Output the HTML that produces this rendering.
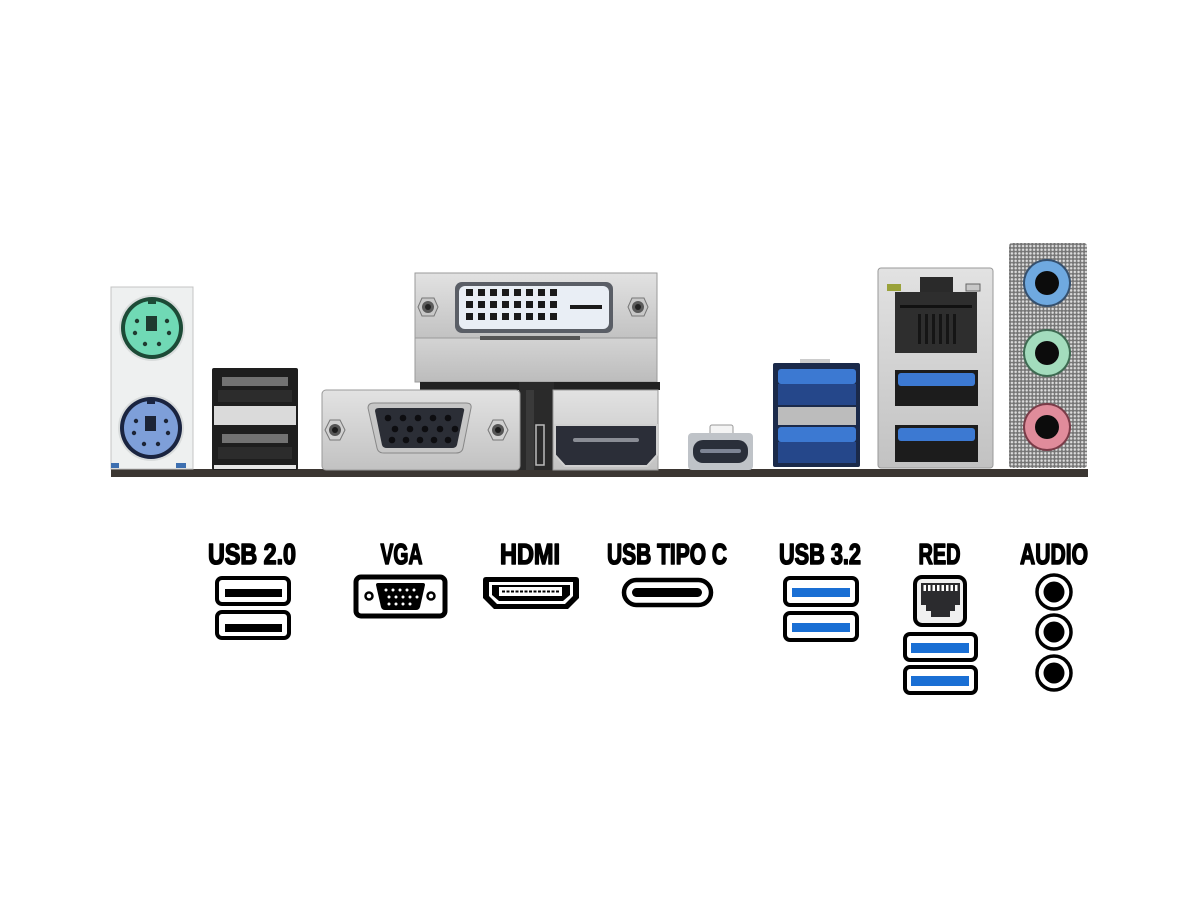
<!DOCTYPE html>
<html><head><meta charset="utf-8"><style>
html,body{margin:0;padding:0;background:#fff;}
svg{display:block;}
.lbl{font-family:"Liberation Sans",sans-serif;font-weight:bold;font-size:29px;fill:#000;stroke:#000;stroke-width:1.6px;stroke-linejoin:round;}
</style></head><body>
<svg width="1200" height="900" viewBox="0 0 1200 900" xmlns="http://www.w3.org/2000/svg">
<defs>
 <linearGradient id="silver" x1="0" y1="0" x2="0" y2="1">
  <stop offset="0" stop-color="#e2e2e2"/><stop offset="1" stop-color="#c2c2c2"/>
 </linearGradient>
 <linearGradient id="silver2" x1="0" y1="0" x2="0" y2="1">
  <stop offset="0" stop-color="#d4d4d4"/><stop offset="1" stop-color="#bcbcbc"/>
 </linearGradient>
 <pattern id="perf" width="3.7" height="3.7" patternUnits="userSpaceOnUse">
  <rect width="3.7" height="3.7" fill="#747474"/><circle cx="1.85" cy="1.85" r="1.25" fill="#dcdcdc"/>
 </pattern>
</defs>

<!-- bottom bar -->
<rect x="111" y="469" width="977" height="8" fill="#3b3632"/>

<!-- PS/2 panel -->
<rect x="111" y="287" width="82" height="182" fill="#eef0f0" stroke="#c4c4c4" stroke-width="1"/>
<rect x="111" y="463" width="8" height="5" fill="#3d6fb0"/>
<rect x="176" y="463" width="10" height="5" fill="#3d6fb0"/>
<circle cx="152" cy="328" r="33" fill="#d9dcdc"/>
<circle cx="152" cy="328" r="31" fill="#1c4a36"/>
<circle cx="152" cy="328" r="27" fill="#70d9b5"/>
<rect x="148" y="299" width="8" height="5" fill="#1c4a36"/>
<rect x="146" y="316" width="11" height="15" fill="#1f3a30"/>
<circle cx="137" cy="321" r="2.2" fill="#1f3a30"/><circle cx="167" cy="321" r="2.2" fill="#1f3a30"/>
<circle cx="135" cy="333" r="2.2" fill="#1f3a30"/><circle cx="169" cy="333" r="2.2" fill="#1f3a30"/>
<circle cx="145" cy="344" r="2.2" fill="#1f3a30"/><circle cx="159" cy="344" r="2.2" fill="#1f3a30"/>

<circle cx="151" cy="428" r="33" fill="#d9dcdc"/>
<circle cx="151" cy="428" r="31" fill="#1a2440"/>
<circle cx="151" cy="428" r="27" fill="#7e9fd9"/>
<rect x="147" y="399" width="8" height="5" fill="#1a2440"/>
<rect x="145" y="416" width="11" height="15" fill="#1c2436"/>
<circle cx="136" cy="421" r="2.2" fill="#1c2436"/><circle cx="166" cy="421" r="2.2" fill="#1c2436"/>
<circle cx="134" cy="433" r="2.2" fill="#1c2436"/><circle cx="168" cy="433" r="2.2" fill="#1c2436"/>
<circle cx="144" cy="444" r="2.2" fill="#1c2436"/><circle cx="158" cy="444" r="2.2" fill="#1c2436"/>

<!-- USB 2.0 stack -->
<rect x="212" y="368" width="86" height="102" rx="2" fill="#1e1e1e"/>
<rect x="222" y="377" width="66" height="9" fill="#727272"/>
<rect x="218" y="390" width="74" height="12" fill="#2c2c2c"/>
<rect x="214" y="406" width="82" height="19" fill="#dadada"/>
<rect x="222" y="434" width="66" height="9" fill="#727272"/>
<rect x="218" y="447" width="74" height="12" fill="#2c2c2c"/>
<rect x="214" y="465" width="82" height="4" fill="#e6e6e6"/>

<!-- DVI bracket -->
<rect x="415" y="273" width="242" height="65" fill="url(#silver)" stroke="#9a9a9a"/>
<rect x="415" y="338" width="242" height="44" fill="url(#silver2)" stroke="#9a9a9a"/>
<rect x="480" y="336" width="100" height="4" fill="#555"/>
<rect x="455" y="282" width="158" height="51" rx="7" fill="#5a5e66"/>
<rect x="459" y="286" width="150" height="43" rx="6" fill="#e9eef5"/>
<g fill="#1a1a1a">
 <rect x="466" y="289" width="7" height="7"/><rect x="478" y="289" width="7" height="7"/><rect x="490" y="289" width="7" height="7"/><rect x="502" y="289" width="7" height="7"/><rect x="514" y="289" width="7" height="7"/><rect x="526" y="289" width="7" height="7"/><rect x="538" y="289" width="7" height="7"/><rect x="550" y="289" width="7" height="7"/>
 <rect x="466" y="301" width="7" height="7"/><rect x="478" y="301" width="7" height="7"/><rect x="490" y="301" width="7" height="7"/><rect x="502" y="301" width="7" height="7"/><rect x="514" y="301" width="7" height="7"/><rect x="526" y="301" width="7" height="7"/><rect x="538" y="301" width="7" height="7"/><rect x="550" y="301" width="7" height="7"/>
 <rect x="466" y="313" width="7" height="7"/><rect x="478" y="313" width="7" height="7"/><rect x="490" y="313" width="7" height="7"/><rect x="502" y="313" width="7" height="7"/><rect x="514" y="313" width="7" height="7"/><rect x="526" y="313" width="7" height="7"/><rect x="538" y="313" width="7" height="7"/><rect x="550" y="313" width="7" height="7"/>
 <rect x="570" y="305" width="32" height="4"/>
</g>
<polygon points="418,307 422,298 434,298 438,307 434,316 422,316" fill="#c8c8c8" stroke="#777"/>
<circle cx="428" cy="307" r="6" fill="#5a5a5a"/><circle cx="428" cy="307" r="3" fill="#222"/>
<polygon points="628,307 632,298 644,298 648,307 644,316 632,316" fill="#c8c8c8" stroke="#777"/>
<circle cx="638" cy="307" r="6" fill="#5a5a5a"/><circle cx="638" cy="307" r="3" fill="#222"/>

<!-- dark area -->
<rect x="420" y="382" width="240" height="8" fill="#222"/>
<rect x="519" y="382" width="35" height="88" fill="#2a2a2a"/>
<rect x="526" y="390" width="8" height="80" fill="#3a3a3a"/>
<rect x="536" y="425" width="8" height="40" fill="none" stroke="#bbb" stroke-width="1.5"/>

<!-- VGA bracket -->
<rect x="322" y="390" width="198" height="80" rx="4" fill="url(#silver)" stroke="#999"/>
<path d="M368,408 Q368,403 374,403 L466,403 Q472,403 471,408 L463,448 Q462,453 456,453 L384,453 Q378,453 377,448 Z" fill="#c6c6c6" stroke="#888"/>
<path d="M375,411 Q375,408 379,408 L461,408 Q465,408 464,411 L457,445 Q456,448 452,448 L387,448 Q383,448 382,445 Z" fill="#2b2e36"/>
<g fill="#0d0d10">
 <circle cx="388" cy="418" r="3.3"/><circle cx="403" cy="418" r="3.3"/><circle cx="418" cy="418" r="3.3"/><circle cx="433" cy="418" r="3.3"/><circle cx="448" cy="418" r="3.3"/>
 <circle cx="395" cy="429" r="3.3"/><circle cx="410" cy="429" r="3.3"/><circle cx="425" cy="429" r="3.3"/><circle cx="440" cy="429" r="3.3"/><circle cx="455" cy="429" r="3.3"/>
 <circle cx="392" cy="440" r="3.3"/><circle cx="406" cy="440" r="3.3"/><circle cx="420" cy="440" r="3.3"/><circle cx="434" cy="440" r="3.3"/><circle cx="448" cy="440" r="3.3"/>
</g>
<polygon points="325,430 330,420 340,420 345,430 340,440 330,440" fill="#d0d0d0" stroke="#777"/>
<circle cx="335" cy="430" r="6" fill="#555"/><circle cx="335" cy="430" r="3" fill="#1a1a1a"/>
<polygon points="488,430 493,420 503,420 508,430 503,440 493,440" fill="#d0d0d0" stroke="#777"/>
<circle cx="498" cy="430" r="6" fill="#555"/><circle cx="498" cy="430" r="3" fill="#1a1a1a"/>

<!-- HDMI bracket -->
<rect x="553" y="390" width="105" height="80" fill="url(#silver)" stroke="#999"/>
<polygon points="555,425 657,425 657,455 647,466 565,466 555,455" fill="#2b2e38" stroke="#d0d0d0" stroke-width="2"/>
<rect x="573" y="438" width="66" height="4" rx="2" fill="#8a8d95"/>

<!-- USB-C -->
<rect x="710" y="425" width="23" height="10" rx="2" fill="#f4f4f4" stroke="#999"/>
<rect x="688" y="433" width="65" height="37" rx="4" fill="#bfc3c8"/>
<rect x="693" y="440" width="55" height="23" rx="10" fill="#2a2f3a"/>
<rect x="700" y="449" width="41" height="4" rx="2" fill="#7d8494"/>

<!-- USB 3.2 stack -->
<rect x="800" y="359" width="30" height="6" fill="#ccc"/>
<rect x="773" y="363" width="87" height="104" rx="2" fill="#1b2a4a"/>
<rect x="778" y="369" width="78" height="15" rx="3" fill="#3c79d2"/>
<rect x="778" y="384" width="78" height="21" fill="#25478a"/>
<rect x="778" y="407" width="78" height="18" fill="#bcbcbc"/>
<rect x="778" y="427" width="78" height="15" rx="3" fill="#3c79d2"/>
<rect x="778" y="442" width="78" height="21" fill="#25478a"/>

<!-- LAN block -->
<rect x="878" y="268" width="115" height="200" rx="3" fill="url(#silver)" stroke="#999"/>
<rect x="887" y="284" width="14" height="7" fill="#9aa23a"/>
<rect x="966" y="284" width="14" height="7" fill="#c8c8c8" stroke="#666"/>
<rect x="920" y="277" width="33" height="16" fill="#2a2a2a"/>
<rect x="895" y="292" width="82" height="61" fill="#2e2e2e"/>
<rect x="900" y="305" width="72" height="3" fill="#111"/>
<g fill="#151515">
 <rect x="918" y="314" width="3" height="30"/><rect x="925" y="314" width="3" height="30"/><rect x="932" y="314" width="3" height="30"/><rect x="939" y="314" width="3" height="30"/><rect x="946" y="314" width="3" height="30"/><rect x="953" y="314" width="3" height="30"/>
</g>
<rect x="895" y="370" width="83" height="36" fill="#1c1c1c"/>
<rect x="898" y="373" width="77" height="13" rx="3" fill="#3c79d2"/>
<rect x="895" y="425" width="83" height="37" fill="#1c1c1c"/>
<rect x="898" y="428" width="77" height="13" rx="3" fill="#3c79d2"/>

<!-- Audio panel -->
<rect x="1009" y="243" width="78" height="225" rx="3" fill="url(#perf)"/>
<circle cx="1047" cy="283" r="24" fill="#35506e"/>
<circle cx="1047" cy="283" r="22" fill="#6fa9e0"/>
<circle cx="1047" cy="283" r="12" fill="#0c0c0c"/>
<circle cx="1047" cy="353" r="24" fill="#3e6a52"/>
<circle cx="1047" cy="353" r="22" fill="#a3dcbd"/>
<circle cx="1047" cy="353" r="12" fill="#0c0c0c"/>
<circle cx="1047" cy="427" r="24" fill="#7a3c48"/>
<circle cx="1047" cy="427" r="22" fill="#e08c9b"/>
<circle cx="1047" cy="427" r="12" fill="#0c0c0c"/>

<!-- Labels -->
<text class="lbl" x="252" y="564" text-anchor="middle" textLength="88" lengthAdjust="spacingAndGlyphs">USB 2.0</text>
<text class="lbl" x="401.5" y="564" text-anchor="middle" textLength="42" lengthAdjust="spacingAndGlyphs">VGA</text>
<text class="lbl" x="530" y="564" text-anchor="middle" textLength="60" lengthAdjust="spacingAndGlyphs">HDMI</text>
<text class="lbl" x="667" y="564" text-anchor="middle" textLength="120" lengthAdjust="spacingAndGlyphs">USB TIPO C</text>
<text class="lbl" x="820" y="564" text-anchor="middle" textLength="82" lengthAdjust="spacingAndGlyphs">USB 3.2</text>
<text class="lbl" x="939.5" y="564" text-anchor="middle" textLength="42" lengthAdjust="spacingAndGlyphs">RED</text>
<text class="lbl" x="1054" y="564" text-anchor="middle" textLength="68" lengthAdjust="spacingAndGlyphs">AUDIO</text>

<!-- USB 2.0 icon -->
<rect x="217" y="578" width="72" height="26" rx="5" fill="#fff" stroke="#000" stroke-width="4"/>
<rect x="225" y="589" width="57" height="8" fill="#000"/>
<rect x="217" y="612" width="72" height="26" rx="5" fill="#fff" stroke="#000" stroke-width="4"/>
<rect x="225" y="624" width="57" height="8" fill="#000"/>

<!-- VGA icon -->
<rect x="356" y="577" width="89" height="39" rx="5" fill="#fff" stroke="#000" stroke-width="5"/>
<path d="M376,585 Q376,583 378,583 L423,583 Q425,583 425,585 L420,607 Q419,610 416,610 L385,610 Q382,610 381,607 Z" fill="#000"/>
<g fill="#fff">
 <circle cx="386" cy="590" r="1.5"/><circle cx="393" cy="590" r="1.5"/><circle cx="400" cy="590" r="1.5"/><circle cx="407" cy="590" r="1.5"/><circle cx="414" cy="590" r="1.5"/>
 <circle cx="389" cy="597" r="1.5"/><circle cx="396" cy="597" r="1.5"/><circle cx="403" cy="597" r="1.5"/><circle cx="410" cy="597" r="1.5"/><circle cx="417" cy="597" r="1.5"/>
 <circle cx="389" cy="604" r="1.5"/><circle cx="396" cy="604" r="1.5"/><circle cx="403" cy="604" r="1.5"/><circle cx="410" cy="604" r="1.5"/>
</g>
<circle cx="369" cy="596" r="3.5" fill="#fff" stroke="#000" stroke-width="2.5"/>
<circle cx="431" cy="596" r="3.5" fill="#fff" stroke="#000" stroke-width="2.5"/>

<!-- HDMI icon -->
<path d="M486,577 L576,577 Q579,577 579,580 L579,598 L568,609 L494,609 L483,598 L483,580 Q483,577 486,577 Z" fill="#000"/>
<path d="M489,582 L573,582 L573,596 L565,604 L497,604 L489,596 Z" fill="#fff"/>
<path d="M492,585 L570,585 L570,595 L563,601 L499,601 L492,595 Z" fill="#000"/>
<rect x="499" y="587" width="63" height="9" fill="#fff"/>
<line x1="502" y1="591.5" x2="559" y2="591.5" stroke="#000" stroke-width="2" stroke-dasharray="3,1.5"/>

<!-- USB-C icon -->
<rect x="624" y="580" width="87" height="25" rx="12.5" fill="#fff" stroke="#000" stroke-width="4.5"/>
<rect x="632" y="588" width="70" height="9" rx="4.5" fill="#000"/>

<!-- USB 3.2 icon -->
<rect x="785" y="578" width="72" height="27" rx="5" fill="#fff" stroke="#000" stroke-width="4"/>
<rect x="792" y="588" width="58" height="9" fill="#1a6fd4"/>
<rect x="785" y="613" width="72" height="27" rx="5" fill="#fff" stroke="#000" stroke-width="4"/>
<rect x="792" y="623" width="58" height="9" fill="#1a6fd4"/>

<!-- RED icon -->
<rect x="915" y="577" width="50" height="48" rx="7" fill="#f0f0f0" stroke="#000" stroke-width="4"/>
<path d="M921,583 L960,583 L960,605 L955,605 L955,611 L950,611 L950,617 L931,617 L931,611 L926,611 L926,605 L921,605 Z" fill="#2b2b2e"/>
<g fill="#fff">
 <rect x="923.5" y="585" width="2.5" height="6"/><rect x="928" y="585" width="2.5" height="6"/><rect x="932.5" y="585" width="2.5" height="6"/><rect x="937" y="585" width="2.5" height="6"/><rect x="941.5" y="585" width="2.5" height="6"/><rect x="946" y="585" width="2.5" height="6"/><rect x="950.5" y="585" width="2.5" height="6"/><rect x="955" y="585" width="2.5" height="6"/>
</g>
<rect x="905" y="634" width="71" height="26" rx="5" fill="#fff" stroke="#000" stroke-width="4"/>
<rect x="911" y="643" width="58" height="10" fill="#1a6fd4"/>
<rect x="905" y="667" width="71" height="26" rx="5" fill="#fff" stroke="#000" stroke-width="4"/>
<rect x="911" y="676" width="58" height="10" fill="#1a6fd4"/>

<!-- AUDIO icon -->
<circle cx="1054" cy="592" r="17" fill="#fff" stroke="#000" stroke-width="3.5"/>
<circle cx="1054" cy="592" r="10.5" fill="#000"/>
<circle cx="1054" cy="632" r="17" fill="#fff" stroke="#000" stroke-width="3.5"/>
<circle cx="1054" cy="632" r="10.5" fill="#000"/>
<circle cx="1054" cy="673" r="17" fill="#fff" stroke="#000" stroke-width="3.5"/>
<circle cx="1054" cy="673" r="10.5" fill="#000"/>
</svg>
</body></html>
